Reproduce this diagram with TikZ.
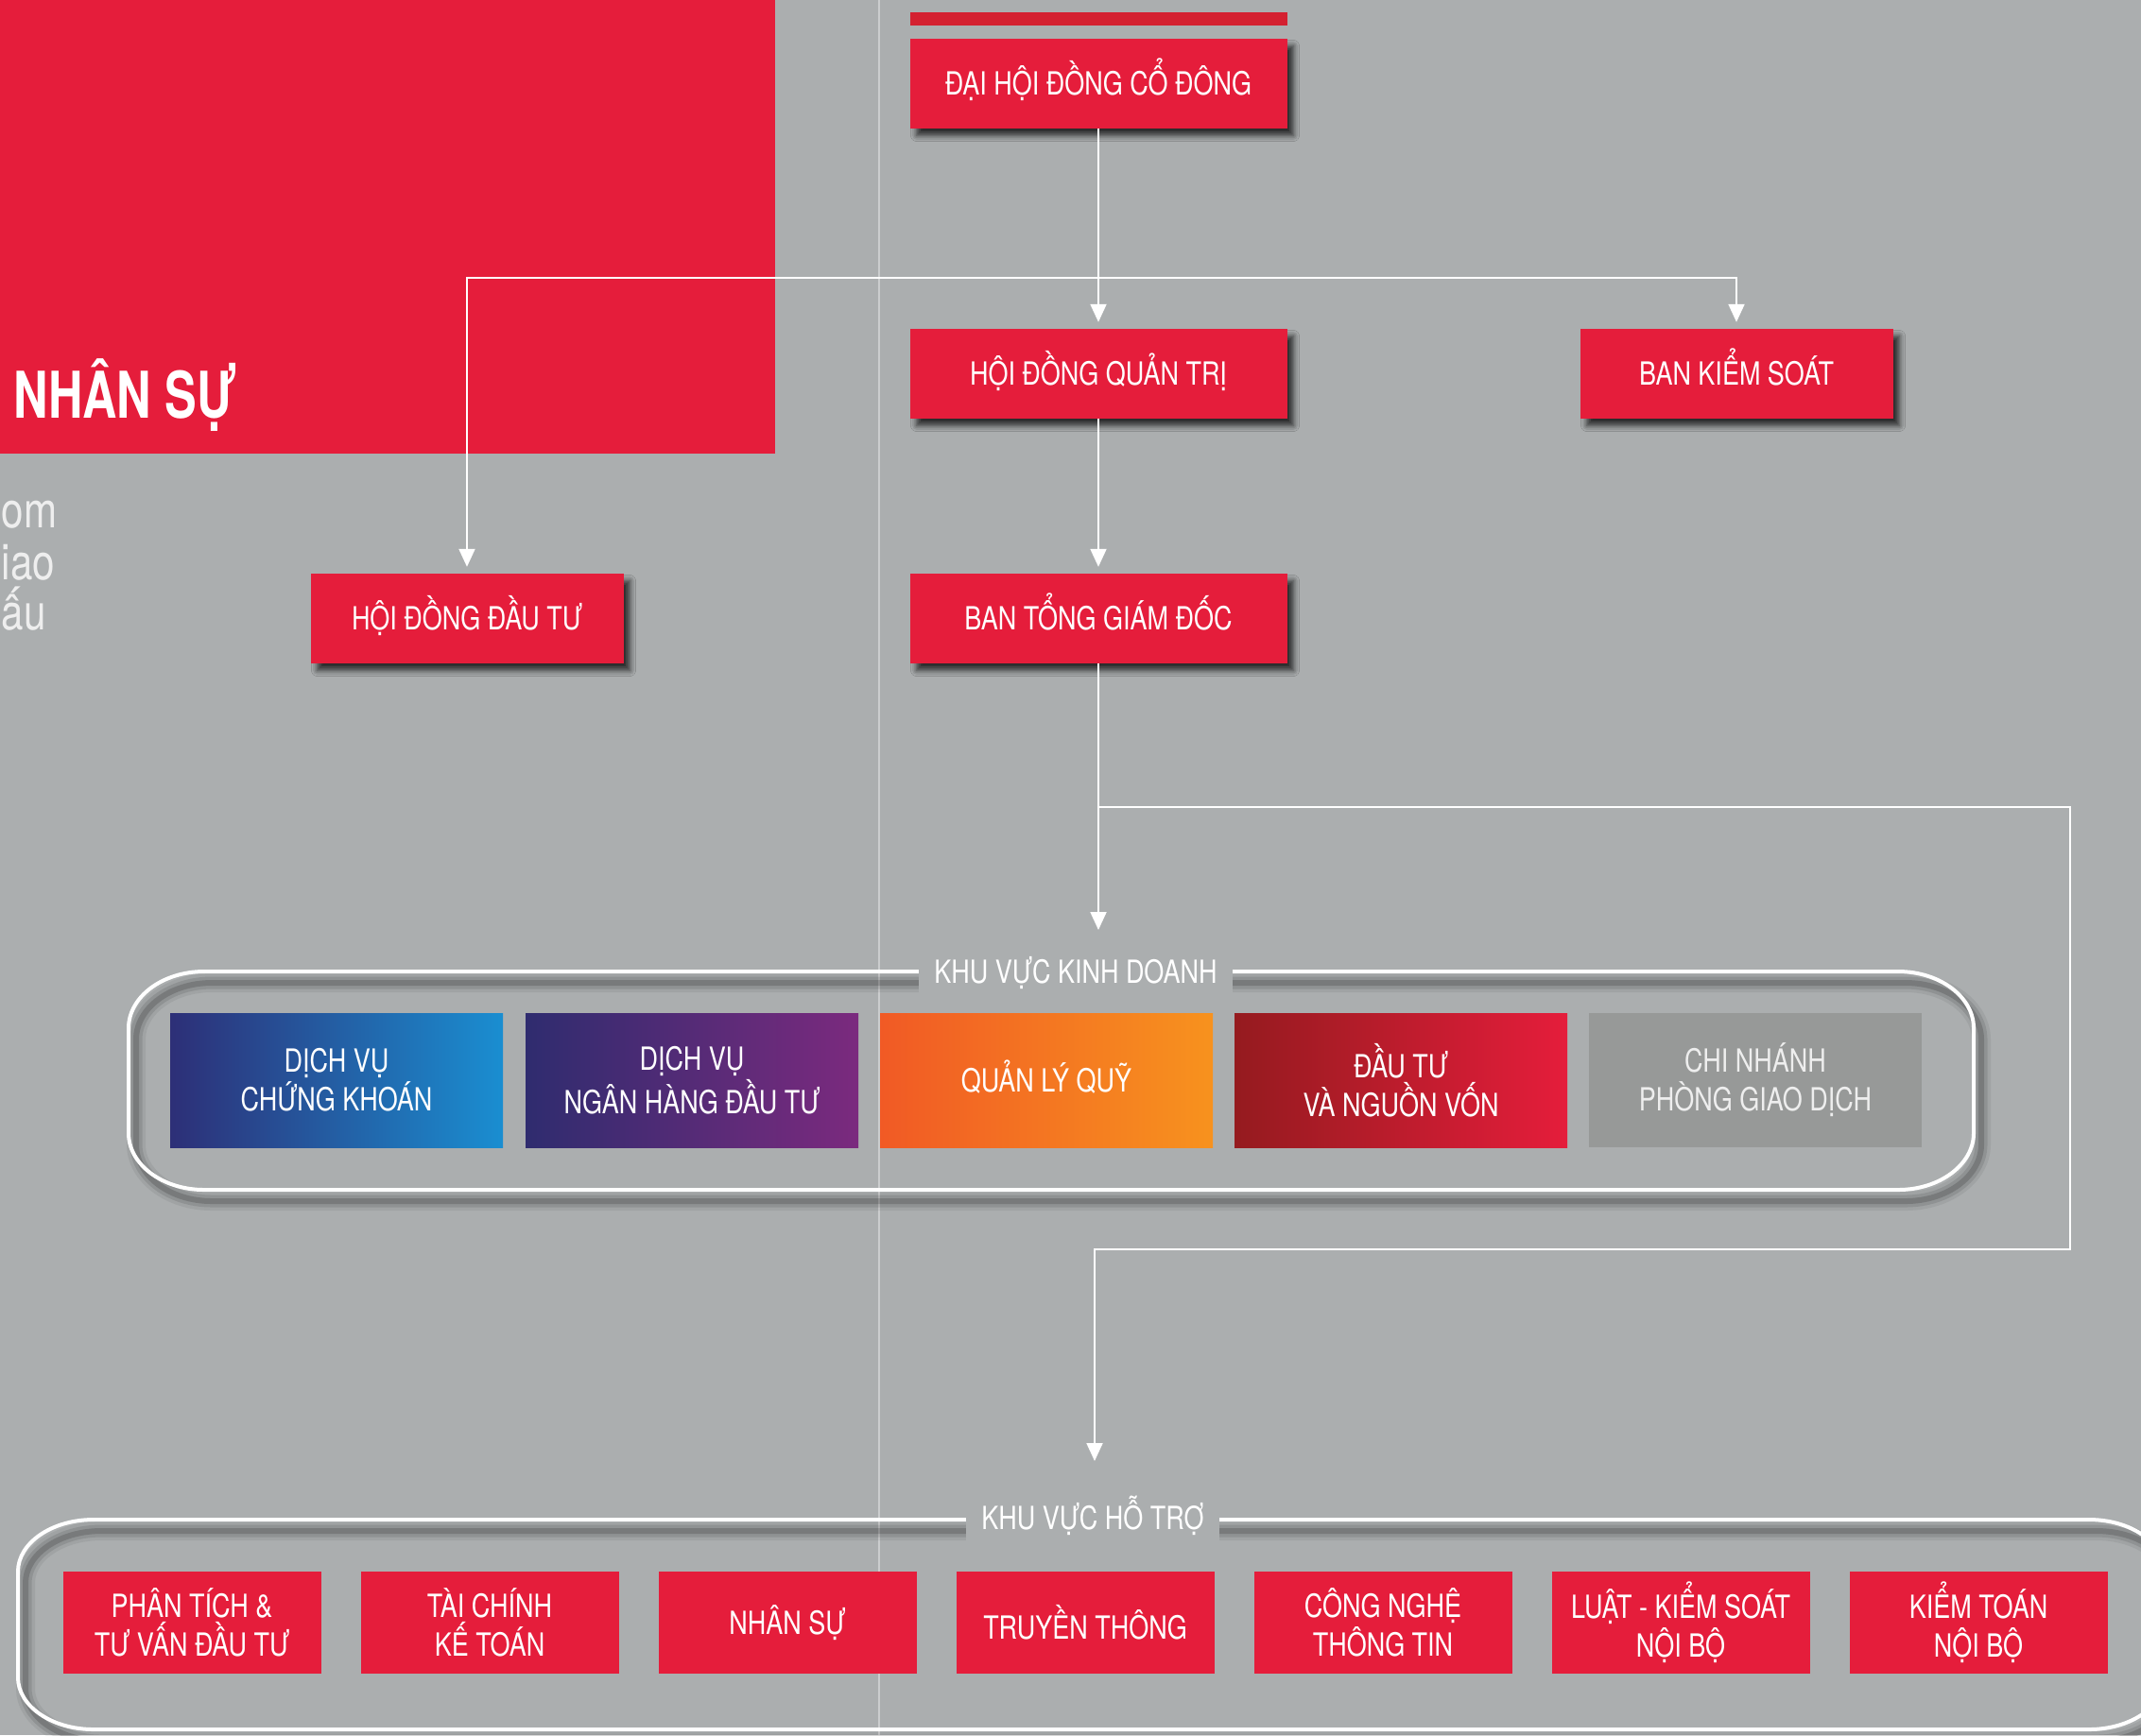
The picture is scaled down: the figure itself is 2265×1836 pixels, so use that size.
\documentclass[tikz,border=0pt]{standalone}
\usepackage{fontspec}
\setmainfont{TeX Gyre Heros}[FakeStretch=0.8]
\newfontfamily\titlefont{TeX Gyre Heros}[FakeStretch=0.74]
\usetikzlibrary{arrows.meta,shadows.blur}
\definecolor{bg}{HTML}{ABAEAF}
\definecolor{brand}{HTML}{E51D3B}
\definecolor{topbar}{HTML}{D42030}
\definecolor{rule}{HTML}{CBCDCE}
\definecolor{muted}{HTML}{EEEEEE}
\definecolor{navy}{HTML}{2D2F77}
\definecolor{sky}{HTML}{1A8ED1}
\definecolor{indigo}{HTML}{2F2C6F}
\definecolor{plum}{HTML}{7B2A7E}
\definecolor{flame}{HTML}{F15A25}
\definecolor{amber}{HTML}{F7921E}
\definecolor{maroon}{HTML}{951B1F}
\definecolor{slate}{HTML}{979998}
\tikzset{
  boxfont/.style={font=\fontsize{9.6}{11.7}\selectfont},
  oneline/.style={text height=2.4mm, text depth=0pt},
  orgbox/.style={boxfont, oneline, fill=brand, text=white, inner sep=0pt, minimum height=9.5mm,
    blur shadow={shadow xshift=0.7mm, shadow yshift=-0.8mm, shadow blur radius=0.6mm, shadow opacity=75}},
  unitbox/.style={boxfont, text=white, align=center, inner sep=0pt, minimum width=35.2mm, minimum height=14.2mm},
  helpbox/.style={boxfont, fill=brand, text=white, align=center, inner sep=0pt, minimum width=27.3mm, minimum height=10.8mm},
  conn/.style={draw=white, line width=0.2mm, -{Triangle[width=1.7mm,length=1.9mm]}, shorten >=0.6mm},
  frame/.style={draw=white, line width=0.4mm,
    preaction={draw=black, opacity=0.06, line width=2mm, transform canvas={xshift=0.8mm,yshift=-1.2mm}},
    preaction={draw=black, opacity=0.10, line width=1.3mm, transform canvas={xshift=0.8mm,yshift=-1.2mm}},
    preaction={draw=black, opacity=0.16, line width=0.6mm, transform canvas={xshift=0.8mm,yshift=-1.2mm}}},
  zonelab/.style={boxfont, oneline, fill=bg, text=white, inner xsep=1.6mm, inner ysep=1.6mm},
  frag/.style={text=muted, font=\fontsize{15}{18}\selectfont, anchor=base west, inner sep=0pt}
}

\begin{document}
\begin{tikzpicture}[x=0.1mm, y=-0.1mm]
  \useasboundingbox (0,0) rectangle (2265,1836);
  \clip (0,0) rectangle (2265,1836);
  \fill[bg] (0,0) rectangle (2265,1836);
  \draw[rule, line width=0.2mm] (930,0) -- (930,1836);

  % title panel
  \fill[brand] (0,0) rectangle (820,480);
  \node[anchor=base west, inner sep=0pt, text=white, font=\titlefont\bfseries\fontsize{19.4}{22}\selectfont] (title) at (14,442) {NHÂN SỰ};
  \node[frag] (fragA) at (1,558) {om};
  \node[frag] (fragB) at (1,613) {iao};
  \node[frag] (fragC) at (1,666) {ấu};

  % governance
  \fill[topbar] (963,13) rectangle (1362,27);
  \node[orgbox, minimum width=39.9mm] (dhd) at (1162,88) {ĐẠI HỘI ĐỒNG CỔ ĐÔNG};
  \node[orgbox, minimum width=39.9mm] (hdqt) at (1162,395) {HỘI ĐỒNG QUẢN TRỊ};
  \node[orgbox, minimum width=33.1mm] (bks) at (1837,395) {BAN KIỂM SOÁT};
  \node[orgbox, minimum width=39.9mm] (btgd) at (1162,654) {BAN TỔNG GIÁM ĐỐC};
  \node[orgbox, minimum width=33.1mm] (hddt) at (494,654) {HỘI ĐỒNG ĐẦU TƯ};

  \coordinate (split) at (1162,294);
  \draw[conn] (dhd) -- (hdqt);
  \draw[conn] (split) -| (hddt);
  \draw[conn] (split) -| (bks);
  \draw[conn] (hdqt) -- (btgd);

  % links down to the two zones
  \coordinate (kd) at (1162,990);
  \coordinate (fork) at (1162,854);
  \coordinate (bend) at (2190,1322);
  \coordinate (ht) at (1158,1552);
  \draw[conn] (btgd) -- (kd);
  \draw[conn] (fork) -| (bend) -| (ht);

  % business zone
  \draw[frame] (216,1028) -- (2008,1028) arc[start angle=90, end angle=0, x radius=8mm, y radius=6mm]
    -- (2088,1199) arc[start angle=0, end angle=-90, x radius=8mm, y radius=6mm]
    -- (216,1259) arc[start angle=270, end angle=180, x radius=8mm, y radius=6mm]
    -- (136,1088) arc[start angle=180, end angle=90, x radius=8mm, y radius=6mm] -- cycle;
  \node[zonelab] (kdlab) at (1138,1028) {KHU VỰC KINH DOANH};
  \node[unitbox, left color=navy, right color=sky] (ck) at (356,1143) {DỊCH VỤ\\CHỨNG KHOÁN};
  \node[unitbox, left color=indigo, right color=plum] (nh) at (732,1143) {DỊCH VỤ\\NGÂN HÀNG ĐẦU TƯ};
  \node[unitbox, oneline, left color=flame, right color=amber] (ql) at (1107,1143) {QUẢN LÝ QUỸ};
  \node[unitbox, left color=maroon, right color=brand] (dt) at (1482,1143) {ĐẦU TƯ\\VÀ NGUỒN VỐN};
  \node[unitbox, fill=slate, text=muted] (cn) at (1857,1143) {CHI NHÁNH\\PHÒNG GIAO DỊCH};

  % support zone
  \draw[frame] (99,1608) -- (2210,1608) arc[start angle=90, end angle=0, x radius=8mm, y radius=5.5mm]
    -- (2290,1775) arc[start angle=0, end angle=-90, x radius=8mm, y radius=5.5mm]
    -- (99,1830) arc[start angle=270, end angle=180, x radius=8mm, y radius=5.5mm]
    -- (19,1663) arc[start angle=180, end angle=90, x radius=8mm, y radius=5.5mm] -- cycle;
  \node[zonelab] (htlab) at (1156,1606) {KHU VỰC HỖ TRỢ};
  \foreach \nm/\txt [count=\i from 0] in {ptv/{PHÂN TÍCH \&\\TƯ VẤN ĐẦU TƯ}, tckt/{TÀI CHÍNH\\KẾ TOÁN},
      ns/{NHÂN SỰ}, tt/{TRUYỀN THÔNG}, cntt/{CÔNG NGHỆ\\THÔNG TIN},
      lks/{LUẬT - KIỂM SOÁT\\NỘI BỘ}, ktnb/{KIỂM TOÁN\\NỘI BỘ}}
    \node[helpbox] (\nm) at (203+315*\i,1717) {\txt};
\end{tikzpicture}
\end{document}
